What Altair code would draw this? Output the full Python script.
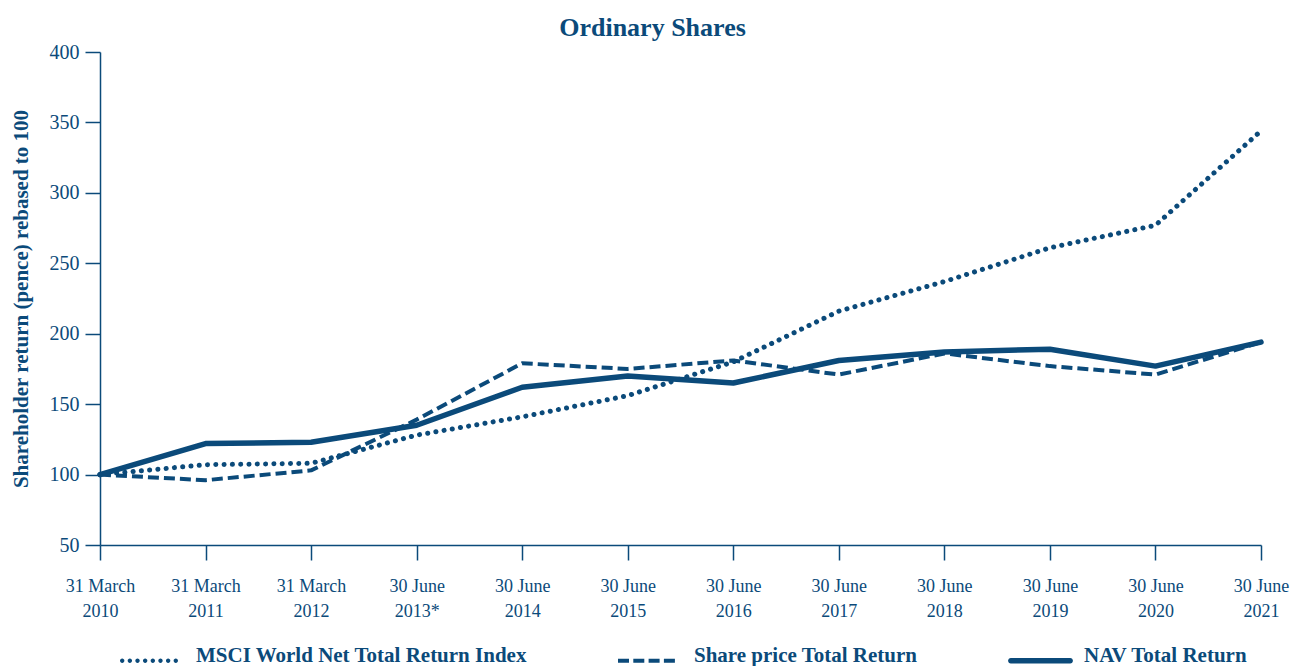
import altair as alt
import pandas as pd

dates = ["31 March|2010", "31 March|2011", "31 March|2012", "30 June|2013*",
         "30 June|2014", "30 June|2015", "30 June|2016", "30 June|2017",
         "30 June|2018", "30 June|2019", "30 June|2020", "30 June|2021"]
msci = [100, 107, 108, 128, 141, 156, 180, 216, 237, 261, 277, 344]
share_price = [100, 96, 103, 139, 179, 175, 181, 171, 186, 177, 171, 194]
nav = [100, 122, 123, 135, 162, 170, 165, 181, 187, 189, 177, 194]
series = ["MSCI World Net Total Return Index", "Share price Total Return", "NAV Total Return"]
y_ticks = [50, 100, 150, 200, 250, 300, 350, 400]

BLUE = "#0b4a7a"
FONT = "Liberation Serif"

rows = []
for name, vals in zip(series, [msci, share_price, nav]):
    for d, v in zip(dates, vals):
        rows.append({"date": d, "value": v, "series": name})
df = pd.DataFrame(rows)

# ---- legend symbol paths (unit square, scaled by sqrt(size)/2) ----
SYM = 65.0          # symbol box width in px
S = SYM / 2         # px per unit
DY = 5.0 / S        # vertical nudge


def f(v):
    return f"{v:.4f}"


def circle(cx, cy, r):
    return (f"M{f(cx - r)},{f(cy)}A{f(r)},{f(r)} 0 1,0 {f(cx + r)},{f(cy)}"
            f"A{f(r)},{f(r)} 0 1,0 {f(cx - r)},{f(cy)}Z")


def rect(x0, x1, h):
    return f"M{f(x0)},{f(DY - h)}L{f(x1)},{f(DY - h)}L{f(x1)},{f(DY + h)}L{f(x0)},{f(DY + h)}Z"


# dotted: 8 dots over 58 px
r_dot = 2.2 / S
step = (58 - 4.4) / 7 / S
dotted = "".join(circle(-1 + r_dot + i * step, DY, r_dot) for i in range(8))
# dashed: 4 dashes 11 px long, 4.3 px gaps
dashed = "".join(rect(-1 + i * (15.3 / S), -1 + i * (15.3 / S) + 11 / S, 2.0 / S) for i in range(4))
# solid: 65 px long rounded bar
h = 2.8 / S
solid = (f"M{f(-1 + h)},{f(DY - h)}L{f(1 - h)},{f(DY - h)}"
         f"A{f(h)},{f(h)} 0 0,1 {f(1 - h)},{f(DY + h)}"
         f"L{f(-1 + h)},{f(DY + h)}A{f(h)},{f(h)} 0 0,1 {f(-1 + h)},{f(DY - h)}Z")
symbol_paths = [dotted, dashed, solid]

x_enc = alt.X("date:N", sort=dates, scale=alt.Scale(type="point", padding=0),
              axis=alt.Axis(title=None, labelAngle=0, labelExpr="split(datum.label, '|')",
                            labelFont=FONT, labelFontSize=18, labelColor=BLUE,
                            labelLineHeight=25, labelPadding=17, tickSize=15,
                            tickColor=BLUE, domainColor=BLUE, tickWidth=1.5, domainWidth=1.5,
                            labelBaseline="top", grid=False))
y_enc = alt.Y("value:Q", scale=alt.Scale(domain=[50, 400], nice=False, zero=False),
              axis=alt.Axis(values=y_ticks, title="Shareholder return (pence) rebased to 100",
                            titleFont=FONT, titleFontSize=21, titleFontWeight="bold",
                            titleColor=BLUE, titlePadding=18,
                            labelFont=FONT, labelFontSize=20, labelColor=BLUE,
                            labelPadding=6, tickSize=15, tickColor=BLUE, domainColor=BLUE,
                            tickWidth=1.5, domainWidth=1.5, grid=False))

styles = {
    series[0]: dict(strokeDash=[0.1, 8.2], strokeWidth=5, strokeCap="round"),
    series[1]: dict(strokeDash=[11, 5], strokeWidth=4, strokeCap="butt"),
    series[2]: dict(strokeWidth=5.5, strokeCap="round"),
}

base = alt.Chart(df)
layers = []
for name in series:
    layers.append(
        base.transform_filter(alt.datum.series == name)
        .mark_line(color=BLUE, strokeJoin="round", **styles[name])
        .encode(x=x_enc, y=y_enc)
    )

leg = alt.Legend(
    title=None, orient="none", legendX=20, legendY=571, direction="horizontal",
    symbolSize=SYM * SYM, symbolFillColor=BLUE, symbolStrokeWidth=0, symbolOpacity=1,
    labelFont=FONT, labelFontSize=21, labelFontWeight="bold", labelColor=BLUE,
    labelLimit=600, columnPadding=90, labelOffset=11,
)
legend_layer = base.transform_filter("false").mark_point(filled=True, color=BLUE, opacity=1).encode(
    shape=alt.Shape("series:N", sort=series,
                    scale=alt.Scale(domain=series, range=symbol_paths), legend=leg)
)

chart = alt.layer(*layers, legend_layer).properties(
    width=1161, height=493,
    title=alt.TitleParams("Ordinary Shares", font=FONT, fontSize=26, fontWeight="bold",
                          color=BLUE, anchor="middle", dx=-28, offset=1),
    autosize=alt.AutoSizeParams(type="none"),
    padding={"left": 100, "top": 52, "right": 37, "bottom": 121},
).configure_view(stroke=None)

chart.save("out.html", embed_options={"renderer": "svg", "actions": False})
